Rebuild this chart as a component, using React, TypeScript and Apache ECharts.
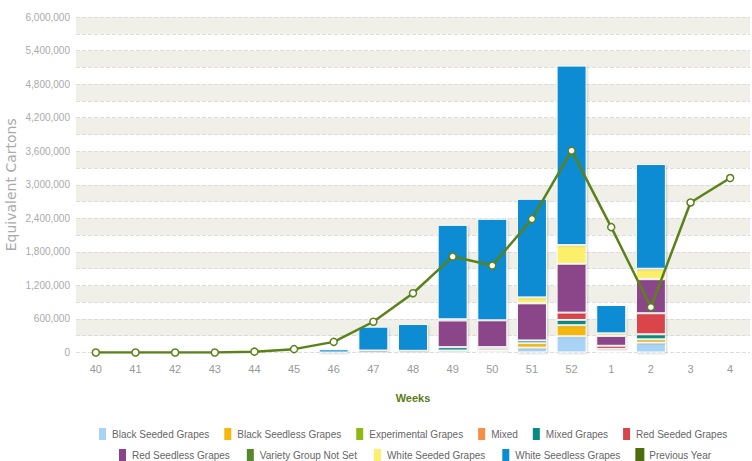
import React, { useEffect, useRef } from "react";
import * as echarts from "echarts";

const weeks = ["40", "41", "42", "43", "44", "45", "46", "47", "48", "49", "50", "51", "52", "1", "2", "3", "4"];

const blackSeeded = [0, 0, 0, 0, 0, 0, 0, 0, 0, 20000, 25000, 86000, 290000, 25000, 175000, 0, 0];
const blackSeedless = [0, 0, 0, 0, 0, 0, 0, 0, 0, 15000, 40000, 79000, 197000, 25000, 60000, 0, 0];
const experimental = [0, 0, 0, 0, 0, 0, 0, 0, 0, 0, 0, 0, 0, 0, 0, 0, 0];
const mixed = [0, 0, 0, 0, 0, 0, 0, 0, 0, 0, 0, 0, 0, 0, 0, 0, 0];
const mixedGrapes = [0, 0, 0, 0, 0, 0, 0, 0, 0, 60000, 30000, 50000, 95000, 15000, 90000, 0, 0];
const redSeeded = [0, 0, 0, 0, 0, 0, 0, 0, 0, 0, 0, 0, 131000, 55000, 376000, 0, 0];
const redSeedless = [0, 0, 0, 0, 0, 0, 0, 35000, 30000, 478000, 480000, 663000, 872000, 174000, 609000, 0, 0];
const varietyNotSet = [0, 0, 0, 0, 0, 0, 0, 0, 0, 20000, 0, 0, 0, 0, 0, 0, 0];
const whiteSeeded = [0, 0, 0, 0, 0, 0, 0, 0, 0, 0, 0, 107000, 335000, 48000, 188000, 0, 0];
const whiteSeedless = [0, 0, 0, 0, 0, 0, 57000, 427000, 480000, 1690000, 1816000, 1764000, 3211000, 507000, 1872000, 0, 0];
const previousYear = [0, 0, 0, 0, 15000, 60000, 190000, 550000, 1060000, 1716000, 1555000, 2386000, 3609000, 2242000, 810000, 2683000, 3120000];

const yTickLabels = ["0", "600,000", "1,200,000", "1,800,000", "2,400,000", "3,000,000", "3,600,000", "4,200,000", "4,800,000", "5,400,000", "6,000,000"];

const barSeries = [
  { name: "Black Seeded Grapes", data: blackSeeded, color: "#a9d3f5" },
  { name: "Black Seedless Grapes", data: blackSeedless, color: "#f5b70a" },
  { name: "Experimental Grapes", data: experimental, color: "#8fb814" },
  { name: "Mixed", data: mixed, color: "#f88d45" },
  { name: "Mixed Grapes", data: mixedGrapes, color: "#088c82" },
  { name: "Red Seeded Grapes", data: redSeeded, color: "#d9444a" },
  { name: "Red Seedless Grapes", data: redSeedless, color: "#8b4489" },
  { name: "Variety Group Not Set", data: varietyNotSet, color: "#55882a" },
  { name: "White Seeded Grapes", data: whiteSeeded, color: "#fcef6c" },
  { name: "White Seedless Grapes", data: whiteSeedless, color: "#0a8bd3" },
];

const FONT = "'Liberation Sans', Arial, sans-serif";

export default function App() {
  const ref = useRef<HTMLDivElement>(null);
  useEffect(() => {
    if (!ref.current) return;
    const chart = echarts.init(ref.current, null, { renderer: "svg" });
    const legendText = { color: "#666", fontFamily: FONT, fontSize: 10 };
    const legendNames: any[] = [
      ...barSeries.map((s) => s.name),
      { name: "Previous Year", itemStyle: { color: "#4e6d0e", borderWidth: 0 } },
    ];
    const legendBase = {
      icon: "rect",
      itemWidth: 9,
      itemHeight: 14,
      itemGap: 13,
      padding: 0,
      textStyle: legendText,
    };
    chart.setOption({
      animation: false,
      grid: { left: 76, right: 2, top: 17, bottom: 108.5, outerBoundsMode: "none", containLabel: false },
      legend: [
        { ...legendBase, data: legendNames.slice(0, 6), top: 426, left: 97 },
        { ...legendBase, data: legendNames.slice(6), top: 447, left: 117, itemGap: 15 },
      ],
      xAxis: {
        type: "category",
        data: weeks,
        axisLine: { show: false },
        axisTick: { show: false },
        axisLabel: { color: "#999", fontFamily: FONT, fontSize: 11, margin: 11 },
        name: "Weeks",
        nameLocation: "middle",
        nameGap: 40,
        nameMoveOverlap: false,
        nameTextStyle: { color: "#5a7d16", fontWeight: "bold", fontFamily: FONT, fontSize: 11 },
      },
      yAxis: {
        type: "value",
        min: 0,
        max: 6000000,
        interval: 300000,
        axisLine: { show: false },
        axisTick: { show: false },
        axisLabel: {
          color: "#aaa",
          fontFamily: FONT,
          fontSize: 10,
          margin: 6,
          formatter: (v: number) => (v % 600000 === 0 ? yTickLabels[v / 600000] : ""),
        },
        splitLine: { show: true, lineStyle: { type: "dashed", color: "#dcdcdc" } },
        splitArea: { show: true, areaStyle: { color: ["#ffffff", "#f0f0e9"] } },
        name: "Equivalent Cartons",
        nameLocation: "middle",
        nameGap: 58,
        nameMoveOverlap: false,
        nameTextStyle: { color: "#aaa", fontFamily: "'DejaVu Sans', sans-serif", fontSize: 14 },
      },
      series: [
        ...barSeries.map((s) => ({
          name: s.name,
          type: "bar",
          stack: "total",
          barWidth: 30,
          data: s.data,
          itemStyle: {
            color: s.color,
            borderColor: "#ffffff",
            borderWidth: 1,
            shadowColor: "rgba(0,0,0,0.18)",
            shadowBlur: 2,
            shadowOffsetX: 1,
            shadowOffsetY: 1,
          },
          emphasis: { disabled: true },
        })),
        {
          name: "Previous Year",
          type: "line",
          data: previousYear,
          z: 5,
          symbol: "circle",
          symbolSize: 7,
          showAllSymbol: true,
          lineStyle: { color: "#5a8219", width: 2.5 },
          itemStyle: { color: "#ffffff", borderColor: "#5a8219", borderWidth: 1.5 },
          emphasis: { disabled: true },
        },
      ],
    });
    return () => chart.dispose();
  }, []);
  return <div ref={ref} style={{ width: 752, height: 461, position: "absolute", left: 0, top: 0 }} />;
}
